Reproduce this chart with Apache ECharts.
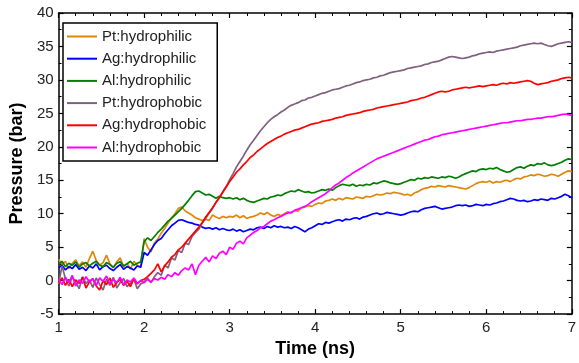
<!DOCTYPE html>
<html>
<head>
<meta charset="utf-8">
<script src="https://cdn.jsdelivr.net/npm/echarts@6/dist/echarts.min.js"></script>
<style>
html,body{margin:0;padding:0;background:#fff;}
#chart{width:579px;height:363px;}
</style>
</head>
<body>
<div id="chart"></div>
<script>
// sample grid: 1.00 .. 7.00 ns, every 0.04 ns
const time = [];
for (let i = 0; i <= 150; i++) time.push(+(1 + 0.04 * i).toFixed(2));

const seriesNames = ['Pt:hydrophilic','Ag:hydrophilic','Al:hydrophilic','Pt:hydrophobic','Ag:hydrophobic','Al:hydrophobic'];
const seriesColors = ['#E0860B','#0000FF','#008000','#806080','#FF0000','#FF00FF'];

const ptHydrophilic = [
 3.2,2.4,2.9,1.8,2.6,3.1,2.2,2.8,2.0,3.3,4.4,3.0,2.3,2.7,3.8,2.5,1.9,2.8,3.4,2.1,2.6,1.7,2.9,2.3,2.0,
 6.3,5.0,4.3,5.6,6.2,7.1,7.8,8.6,9.4,10.0,10.8,11.0,10.4,10.1,9.8,9.4,9.2,9.0,9.2,9.0,9.8,9.5,9.3,9.6,9.4,
 9.6,9.5,9.8,9.4,9.7,9.3,9.5,9.6,9.8,10.1,9.9,10.2,9.8,9.6,9.9,9.7,10.0,10.3,10.1,10.5,10.4,10.9,11.0,11.2,11.1,
 11.4,11.6,11.5,11.9,12.0,12.2,12.0,12.3,12.1,12.4,12.3,12.2,12.5,12.4,12.3,12.6,12.5,12.7,12.9,12.8,12.9,13.1,13.0,13.2,13.1,
 13.0,12.8,12.9,12.7,13.1,13.3,13.6,13.8,13.9,14.1,14.0,14.2,14.1,14.0,14.2,14.1,14.0,13.9,13.8,13.7,13.9,14.2,14.5,14.7,14.8,
 14.7,14.9,14.6,14.8,14.7,14.9,15.0,14.8,15.1,15.3,15.2,15.5,15.6,15.8,15.7,15.9,15.8,15.6,15.7,15.9,15.8,15.6,15.9,16.2,16.4,
 16.3
];
const agHydrophilic = [
 1.9,2.3,1.6,2.1,1.8,2.4,1.7,2.0,1.5,2.2,1.9,2.5,1.6,2.1,2.3,1.8,1.5,2.0,2.4,1.7,2.1,1.9,1.6,2.2,2.0,
 4.2,3.8,4.6,5.4,6.0,6.3,7.0,7.6,8.2,8.6,9.0,9.1,8.9,8.7,8.6,8.4,8.3,8.0,7.8,7.9,7.7,7.9,7.6,7.8,7.6,
 7.5,7.7,7.4,7.6,7.3,7.5,7.7,7.6,7.9,8.0,7.8,8.1,7.9,8.2,8.0,8.1,7.9,8.0,7.8,8.1,7.9,7.6,7.3,7.7,7.9,
 8.2,8.5,8.4,8.7,8.6,8.8,9.0,9.1,8.9,9.2,9.1,9.3,9.4,9.2,9.5,9.6,9.8,10.0,10.1,9.9,10.0,10.2,10.1,10.0,9.9,
 9.8,9.9,10.1,10.3,10.4,10.3,10.6,10.8,10.9,11.0,11.1,10.9,10.7,10.8,10.9,11.0,11.2,11.3,11.2,11.3,11.1,11.2,11.4,11.3,11.2,
 11.4,11.3,11.5,11.6,11.8,11.9,12.1,12.3,12.2,12.0,11.9,12.0,11.8,11.9,12.1,12.0,12.2,12.1,12.0,12.3,12.2,12.4,12.6,12.9,12.7,
 12.4
];
const alHydrophilic = [
 2.4,2.9,2.1,2.6,2.3,2.8,2.0,2.5,2.7,2.2,2.6,2.9,2.3,2.1,2.7,2.4,2.0,2.6,2.8,2.2,2.5,2.9,2.3,2.6,2.8,
 5.8,6.4,6.0,6.6,7.2,7.7,8.3,8.9,9.3,9.8,10.3,10.8,11.4,12.0,12.7,13.3,13.4,13.1,12.8,12.9,12.6,12.3,12.6,12.4,12.3,
 12.4,12.2,12.4,12.1,12.3,12.0,11.8,11.7,11.9,12.1,12.3,12.2,12.5,12.6,12.8,12.7,13.0,13.2,13.4,13.3,13.6,13.4,13.2,13.3,13.1,
 13.2,13.4,13.6,13.5,13.7,13.5,13.9,14.2,14.4,14.3,14.2,14.4,14.1,14.3,14.2,14.4,14.3,14.6,14.5,14.7,14.9,14.8,14.6,14.5,14.4,
 14.5,14.7,14.9,15.1,15.0,15.3,15.2,15.4,15.3,15.5,15.4,15.3,15.5,15.4,15.6,15.5,15.3,15.5,15.8,16.0,16.2,16.4,16.3,16.6,16.7,
 16.6,16.8,16.7,16.9,16.6,16.4,16.2,16.3,16.6,16.9,17.0,16.8,17.1,17.3,17.2,17.5,17.4,17.6,17.3,17.2,17.3,17.5,17.7,18.0,18.2,
 18.1
];
const ptHydrophobic = [
 -0.5,2.2,0.3,-0.8,0.5,-0.2,-1.2,0.6,-0.4,0.1,-1.0,0.4,-0.6,-1.4,0.2,-0.7,0.5,-1.1,-0.3,0.3,-0.9,-0.4,0.2,-1.2,-0.5,
 -0.2,0.4,-0.3,0.6,1.2,0.8,2.3,1.9,3.4,3.1,4.5,4.2,5.6,5.4,6.6,7.2,7.7,8.6,9.3,10.1,10.8,11.7,12.4,13.3,14.1,
 15.1,16.0,17.0,17.8,18.6,19.5,20.3,21.0,21.7,22.4,23.0,23.6,24.1,24.5,24.8,25.2,25.5,25.9,26.2,26.4,26.6,26.9,27.0,27.3,27.4,
 27.6,27.8,28.0,28.1,28.3,28.5,28.6,28.7,28.9,29.1,29.2,29.4,29.6,29.7,29.9,30.0,30.1,30.3,30.4,30.6,30.7,30.9,31.1,31.2,31.3,
 31.4,31.5,31.7,31.8,31.9,32.0,32.1,32.3,32.4,32.6,32.7,32.8,33.0,33.2,33.4,33.5,33.4,33.3,33.2,33.3,33.4,33.6,33.7,33.9,34.0,
 34.1,34.2,34.1,34.3,34.4,34.5,34.6,34.7,34.8,34.9,35.1,35.2,35.3,35.4,35.5,35.4,35.5,35.3,35.1,35.0,35.2,35.4,35.5,35.6,35.7,
 35.6
];
const agHydrophobic = [
 -0.3,0.4,-0.7,0.2,-0.9,0.1,-0.4,0.5,-1.1,-0.2,0.3,-0.8,-1.4,0.0,-0.6,0.4,-1.0,-0.3,0.2,-0.7,-0.1,-0.9,0.3,-0.5,0.0,
 0.2,0.6,1.1,1.6,2.5,1.3,2.2,2.8,3.5,3.9,4.6,5.0,5.6,6.2,6.8,7.4,8.0,8.7,9.5,10.2,10.9,11.7,12.4,13.2,14.0,
 14.8,15.5,16.2,16.7,17.3,17.8,18.4,18.8,19.3,19.7,20.1,20.5,20.8,21.1,21.4,21.6,21.9,22.1,22.3,22.5,22.6,22.8,23.0,23.2,23.4,
 23.5,23.6,23.8,23.9,24.0,24.1,24.3,24.4,24.5,24.7,24.8,24.9,25.0,25.1,25.3,25.4,25.5,25.6,25.8,25.9,26.0,26.1,26.2,26.3,26.4,
 26.5,26.6,26.7,26.9,27.0,27.1,27.3,27.4,27.6,27.8,28.0,28.2,28.3,28.2,28.3,28.5,28.6,28.7,28.8,28.9,28.8,28.9,29.0,29.1,29.0,
 29.1,29.2,29.3,29.2,29.4,29.5,29.4,29.6,29.5,29.6,29.7,29.8,29.9,29.8,29.5,29.3,29.4,29.5,29.6,29.8,29.9,30.0,30.2,30.3,30.4,
 30.3
];
const alHydrophobic = [
 0.2,-0.6,0.5,-0.3,0.8,-0.8,0.1,-0.4,0.6,-0.2,0.3,-0.7,0.4,-0.1,0.7,-0.5,0.2,-0.3,0.5,-0.6,0.1,-0.2,0.4,-0.4,0.0,
 -0.3,0.2,-0.2,0.3,0.1,0.5,0.2,0.9,0.6,1.2,0.8,1.5,1.9,1.6,2.5,0.9,2.3,2.9,3.5,2.8,3.7,3.3,4.1,4.4,3.9,
 5.0,4.7,5.6,5.9,5.5,6.4,6.8,7.2,7.5,7.9,8.1,8.5,8.9,9.1,9.4,9.6,9.9,10.1,10.2,10.5,10.7,10.9,11.1,11.4,11.8,
 12.1,12.4,12.7,13.0,13.4,13.9,14.3,14.6,15.0,15.4,15.7,16.1,16.4,16.7,17.0,17.3,17.6,17.9,18.2,18.4,18.6,18.8,19.0,19.2,19.4,
 19.6,19.8,20.0,20.2,20.4,20.6,20.8,21.0,21.1,21.3,21.5,21.6,21.8,21.9,22.0,22.1,22.2,22.3,22.4,22.5,22.6,22.7,22.8,22.9,23.0,
 23.1,23.2,23.3,23.4,23.5,23.6,23.6,23.7,23.8,23.9,23.9,24.0,24.1,24.1,24.2,24.3,24.3,24.4,24.5,24.5,24.6,24.7,24.8,24.9,24.8,
 24.7
];
const seriesValues = [ptHydrophilic, agHydrophilic, alHydrophilic, ptHydrophobic, agHydrophobic, alHydrophobic];

const xTicks = [1,2,3,4,5,6,7];
const yTicks = [-5,0,5,10,15,20,25,30,35,40];

const FONT = 'Arial, "Liberation Sans", sans-serif';
const chart = echarts.init(document.getElementById('chart'), null, {renderer: 'canvas'});

function baseAxis(extra) {
  return Object.assign({
    axisLine: {show: true, onZero: false, lineStyle: {color: '#000', width: 1.5}},
    axisTick: {show: true, inside: true, length: 5, lineStyle: {color: '#000', width: 1.2}},
    minorTick: {show: true, length: 3, lineStyle: {color: '#000', width: 1}},
    splitLine: {show: false},
    axisLabel: {show: false}
  }, extra);
}

chart.setOption({
  animation: false,
  backgroundColor: '#fff',
  grid: {left: 53, right: 4, top: 13, bottom: 46, containLabel: false},
  legend: {
    data: seriesNames,
    orient: 'vertical',
    left: 63, top: 23,
    icon: 'rect',
    itemWidth: 30, itemHeight: 2,
    itemGap: 7.2,
    padding: [6, 11, 6, 4],
    borderColor: '#000', borderWidth: 1.5,
    backgroundColor: '#fff',
    textStyle: {fontFamily: FONT, fontSize: 15, color: '#222'}
  },
  xAxis: [
    baseAxis({
      type: 'value', min: 1, max: 7, interval: 1, position: 'bottom',
      minorTick: {show: true, splitNumber: 5, length: 3, lineStyle: {color: '#000', width: 1}},
      axisLabel: {show: true, fontFamily: FONT, fontSize: 15, color: '#222', margin: 6},
      name: 'Time (ns)', nameLocation: 'middle', nameGap: 24,
      nameTextStyle: {fontFamily: FONT, fontSize: 18, fontWeight: 'bold', color: '#000'}
    }),
    baseAxis({
      type: 'value', min: 1, max: 7, interval: 1, position: 'top',
      minorTick: {show: true, splitNumber: 5, length: 3, lineStyle: {color: '#000', width: 1}}
    })
  ],
  yAxis: [
    baseAxis({
      type: 'value', min: -5, max: 40, interval: 5, position: 'left',
      minorTick: {show: true, splitNumber: 2, length: 3, lineStyle: {color: '#000', width: 1}},
      axisLabel: {show: true, fontFamily: FONT, fontSize: 15, color: '#222', margin: 5},
      name: 'Pressure (bar)', nameLocation: 'middle', nameGap: 26,
      nameTextStyle: {fontFamily: FONT, fontSize: 18, fontWeight: 'bold', color: '#000'}
    }),
    baseAxis({
      type: 'value', min: -5, max: 40, interval: 5, position: 'right',
      minorTick: {show: true, splitNumber: 2, length: 3, lineStyle: {color: '#000', width: 1}}
    })
  ],
  series: seriesNames.map((name, k) => ({
    name: name,
    type: 'line',
    xAxisIndex: 0, yAxisIndex: 0,
    data: time.map((t, i) => [t, seriesValues[k][i]]),
    showSymbol: false,
    symbol: 'none',
    lineStyle: {color: seriesColors[k], width: 1.7},
    itemStyle: {color: seriesColors[k]},
    z: 2 + k
  }))
});
</script>
</body>
</html>
